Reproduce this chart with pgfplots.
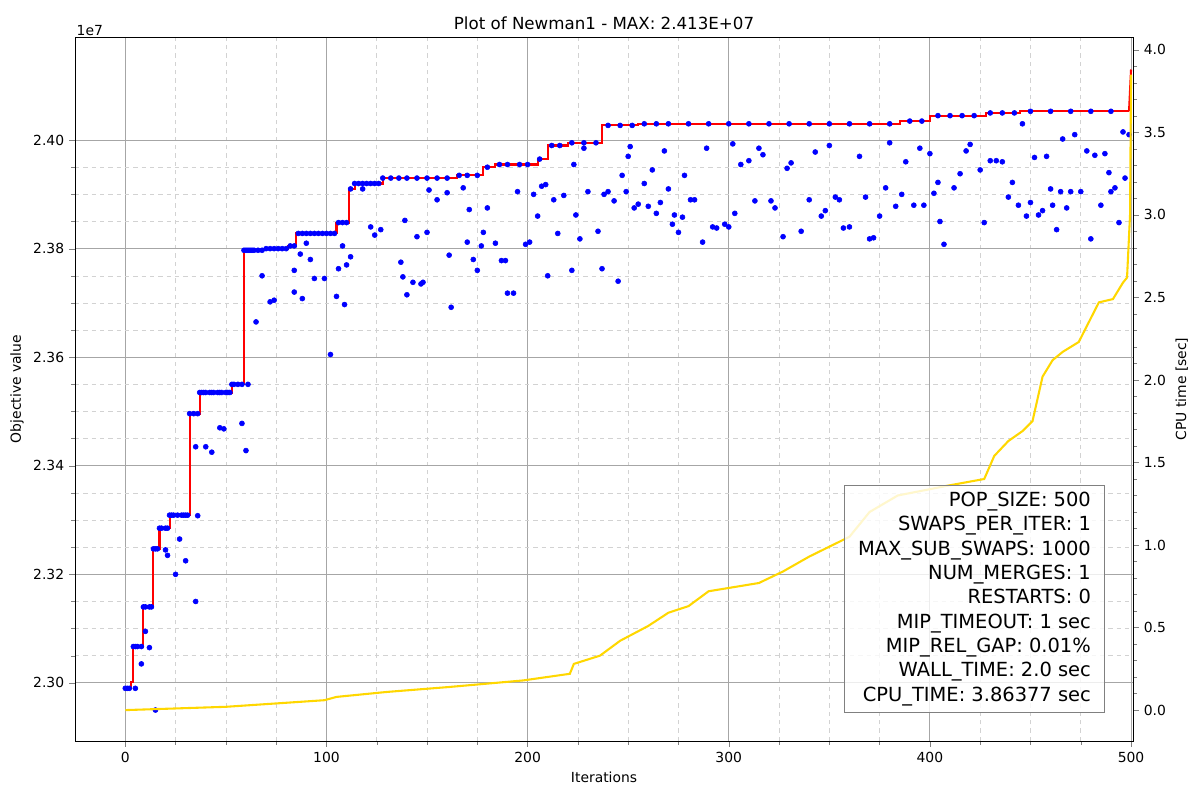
\documentclass[border=0pt]{standalone}
\usepackage{pgfplots}
\pgfplotsset{compat=1.18}
\usepackage{fontspec}
\setmainfont{DejaVu Sans}
\definecolor{gold}{RGB}{255,215,0}
\begin{document}
\fontsize{10}{12}\selectfont
\begin{tikzpicture}
\useasboundingbox (-54pt,-42.5pt) rectangle (810pt,533.5pt);
\begin{axis}[
  at={(0,0)}, anchor=south west,
  scale only axis, width=761.8pt, height=506.9pt,
  xmin=-25, xmax=501, ymin=2.2893, ymax=2.419,
  xtick={0,100,200,300,400,500},
  minor x tick num=3,
  ytick={2.30,2.32,2.34,2.36,2.38,2.40},
  minor y tick num=3,
  yticklabel style={/pgf/number format/.cd,fixed,fixed zerofill,precision=2},
  /pgf/number format/assume math mode=true,
  grid=both,
  major grid style={gray!70, line width=0.6pt},
  minor grid style={gray!35, dashed},
  tick align=outside, tick pos=left,
  xlabel={Iterations}, ylabel={Objective value},
  title={\fontsize{12}{14}\selectfont Plot of Newman1 - MAX: 2.413E+07},
  title style={yshift=-4pt},
  clip=false,
]
\addplot[only marks, mark=*, mark size=1.8pt, blue] coordinates {
(5,2.2990)(15,2.2950)(8,2.3035)(10,2.3095)(12,2.3065)(20,2.3245)(21,2.3235)(25,2.3200)(27,2.3265)(30,2.3225)(35,2.3150)(36,2.3308)(35,2.3435)(40,2.3435)(43,2.3425)(47,2.3470)(49,2.3468)(58,2.3478)(60,2.3428)(61,2.3550)(65,2.3665)(68,2.3750)(72,2.3702)(74,2.3705)(84,2.3760)(84,2.3720)(87,2.3790)(88,2.3708)(90,2.3810)(92,2.3780)(94,2.3745)(99,2.3745)(102,2.3605)(105,2.3712)(106,2.3763)(108,2.3805)(109,2.3697)(110,2.3770)(112,2.3785)(118,2.3910)(122,2.3840)(124,2.3825)(127,2.3835)(137,2.3775)(138,2.3748)(139,2.3852)(140,2.3715)(143,2.3738)(145,2.3822)(147,2.3735)(148,2.3738)(150,2.3830)(151,2.3908)(155,2.3890)(160,2.3903)(161,2.3788)(162,2.3692)(168,2.3912)(170,2.3812)(171,2.3872)(173,2.3780)(175,2.3760)(177,2.3805)(178,2.3830)(180,2.3875)(184,2.3810)(187,2.3778)(189,2.3778)(190,2.3718)(193,2.3718)(195,2.3905)(199,2.3808)(201,2.3812)(203,2.3900)(205,2.3860)(207,2.3915)(209,2.3918)(210,2.3750)(213,2.3890)(215,2.3828)(218,2.3898)(222,2.3760)(223,2.3955)(224,2.3862)(226,2.3818)(228,2.3985)(230,2.3905)(235,2.3832)(237,2.3763)(238,2.3900)(240,2.3905)(243,2.3888)(245,2.3740)(247,2.3935)(249,2.3905)(250,2.3970)(251,2.3988)(253,2.3875)(255,2.3882)(258,2.3920)(260,2.3878)(262,2.3945)(264,2.3865)(266,2.3885)(268,2.3980)(270,2.3910)(272,2.3845)(273,2.3862)(275,2.3830)(277,2.3858)(278,2.3935)(281,2.3890)(283,2.3890)(287,2.3812)(289,2.3985)(292,2.3840)(294,2.3838)(298,2.3845)(300,2.3840)(302,2.3993)(303,2.3865)(306,2.3955)(310,2.3962)(313,2.3888)(315,2.3985)(317,2.3973)(321,2.3888)(323,2.3875)(327,2.3822)(329,2.3948)(331,2.3958)(336,2.3832)(340,2.3890)(343,2.3978)(346,2.3860)(348,2.3870)(350,2.3990)(353,2.3895)(355,2.3890)(357,2.3838)(360,2.3840)(365,2.3970)(368,2.3895)(370,2.3818)(372,2.3820)(375,2.3860)(378,2.3912)(380,2.3995)(383,2.3878)(386,2.3900)(388,2.3960)(392,2.3880)(395,2.3985)(397,2.3880)(400,2.3975)(402,2.3902)(404,2.3922)(405,2.3850)(407,2.3808)(412,2.3912)(415,2.3938)(418,2.3980)(420,2.3992)(425,2.3945)(427,2.3848)(430,2.3962)(433,2.3962)(436,2.3960)(439,2.3895)(441,2.3922)(444,2.3880)(446,2.4030)(448,2.3860)(450,2.3885)(452,2.3968)(454,2.3862)(456,2.3870)(458,2.3970)(460,2.3910)(461,2.3880)(463,2.3835)(465,2.3905)(466,2.4002)(468,2.3875)(470,2.3905)(472,2.4010)(475,2.3905)(478,2.3980)(480,2.3818)(482,2.3972)(485,2.3880)(487,2.3975)(489,2.3940)(490,2.3905)(492,2.3912)(494,2.3848)(496,2.4015)(497,2.3930)(499,2.4010)
};
\addplot[only marks, mark=*, mark size=1.8pt, blue] coordinates {
(0,2.2990)(1,2.2990)(2,2.2990)(4,2.3067)(5,2.3067)(6,2.3067)(8,2.3067)(9,2.3140)(10,2.3140)(12,2.3140)(13,2.3140)(14,2.3247)(15,2.3247)(16,2.3247)(17,2.3285)(18,2.3285)(20,2.3285)(21,2.3285)(22,2.3309)(23,2.3309)(24,2.3309)(26,2.3309)(28,2.3309)(29,2.3309)(30,2.3309)(31,2.3309)(32,2.3496)(34,2.3496)(36,2.3496)(37,2.3535)(38,2.3535)(39,2.3535)(40,2.3535)(42,2.3535)(43,2.3535)(44,2.3535)(46,2.3535)(47,2.3535)(48,2.3535)(50,2.3535)(51,2.3535)(52,2.3535)(53,2.3550)(54,2.3550)(56,2.3550)(58,2.3550)(59,2.3797)(60,2.3797)(61,2.3797)(62,2.3797)(63,2.3797)(64,2.3797)(66,2.3797)(68,2.3797)(70,2.3800)(72,2.3800)(74,2.3800)(76,2.3800)(78,2.3800)(80,2.3800)(82,2.3805)(84,2.3805)(86,2.3828)(88,2.3828)(90,2.3828)(92,2.3828)(94,2.3828)(96,2.3828)(98,2.3828)(100,2.3828)(102,2.3828)(104,2.3828)(106,2.3848)(108,2.3848)(110,2.3848)(112,2.3910)(114,2.3920)(116,2.3920)(118,2.3920)(120,2.3920)(122,2.3920)(124,2.3920)(126,2.3920)(128,2.3930)(132,2.3930)(136,2.3930)(140,2.3930)(145,2.3930)(150,2.3930)(155,2.3930)(160,2.3930)(166,2.3935)(170,2.3935)(175,2.3935)(180,2.3950)(186,2.3955)(190,2.3955)(196,2.3955)(200,2.3955)(206,2.3965)(212,2.3990)(216,2.3990)(222,2.3995)(228,2.3995)(234,2.3995)(240,2.4027)(246,2.4027)(252,2.4027)(258,2.4030)(264,2.4030)(270,2.4030)(280,2.4030)(290,2.4030)(300,2.4030)(310,2.4030)(320,2.4030)(330,2.4030)(340,2.4030)(350,2.4030)(360,2.4030)(370,2.4030)(380,2.4030)(390,2.4035)(396,2.4035)(404,2.4045)(410,2.4045)(416,2.4045)(422,2.4045)(430,2.4050)(436,2.4050)(442,2.4050)(450,2.4053)(460,2.4053)(470,2.4053)(480,2.4053)(490,2.4053)
};
\addplot[red, line width=1.5pt, const plot mark left] coordinates {
(0,2.2990)(3,2.3002)(4,2.3067)(9,2.3140)(14,2.3247)(17,2.3285)(22,2.3309)(32,2.3496)(37,2.3535)(53,2.3550)(59,2.3797)(70,2.3800)(81,2.3805)(85,2.3828)(105,2.3848)(111,2.3910)(114,2.3920)(128,2.3930)(165,2.3935)(178,2.3950)(184,2.3955)(205,2.3965)(210,2.3990)(220,2.3995)(237,2.4027)(255,2.4030)(385,2.4035)(400,2.4045)(428,2.4050)(445,2.4053)(499,2.4053)
};
\addplot[red, line width=1.5pt] coordinates {(499,2.4053)(500,2.4130)};
\node[anchor=south west, inner sep=1pt] at (rel axis cs:0,1) {1e7};
\end{axis}
\begin{axis}[
  at={(0,0)}, anchor=south west,
  scale only axis, width=761.8pt, height=506.9pt,
  xmin=-25, xmax=501, ymin=-0.187, ymax=4.078,
  axis x line=none, axis y line*=right,
  ytick={0,0.5,1,1.5,2,2.5,3,3.5,4},
  minor y tick num=4,
  yticklabel style={/pgf/number format/.cd,fixed,fixed zerofill,precision=1},
  /pgf/number format/assume math mode=true,
  tick align=outside,
  ylabel={CPU time [sec]},
  clip=false,
]
\addplot[gold, line width=1.5pt] coordinates {
(0,0.0)(50,0.02)(99,0.06)(105,0.08)(130,0.11)(161,0.14)(198,0.18)(221,0.22)(223,0.28)(236,0.33)(246,0.42)(260,0.51)(270,0.59)(280,0.63)(290,0.72)(315,0.77)(327,0.84)(340,0.93)(345,0.96)(360,1.05)(370,1.20)(384,1.30)(409,1.36)(427,1.40)(432,1.54)(439,1.63)(446,1.69)(451,1.75)(456,2.02)(461,2.12)(466,2.17)(474,2.23)(479,2.35)(484,2.47)(491,2.49)(496,2.59)(498,2.62)(499.5,3.0)(500,3.85)
};
\node[anchor=south east, fill=white, fill opacity=0.8, text opacity=1, draw=gray, align=right, inner xsep=10pt, inner ysep=5pt, font=\fontsize{14}{17.5}\selectfont] at (rel axis cs:0.9735,0.04) {POP\_SIZE: 500\\SWAPS\_PER\_ITER: 1\\MAX\_SUB\_SWAPS: 1000\\NUM\_MERGES: 1\\RESTARTS: 0\\MIP\_TIMEOUT: 1 sec\\MIP\_REL\_GAP: 0.01\%\\WALL\_TIME: 2.0 sec\\CPU\_TIME: 3.86377 sec};
\end{axis}
\end{tikzpicture}
\end{document}
